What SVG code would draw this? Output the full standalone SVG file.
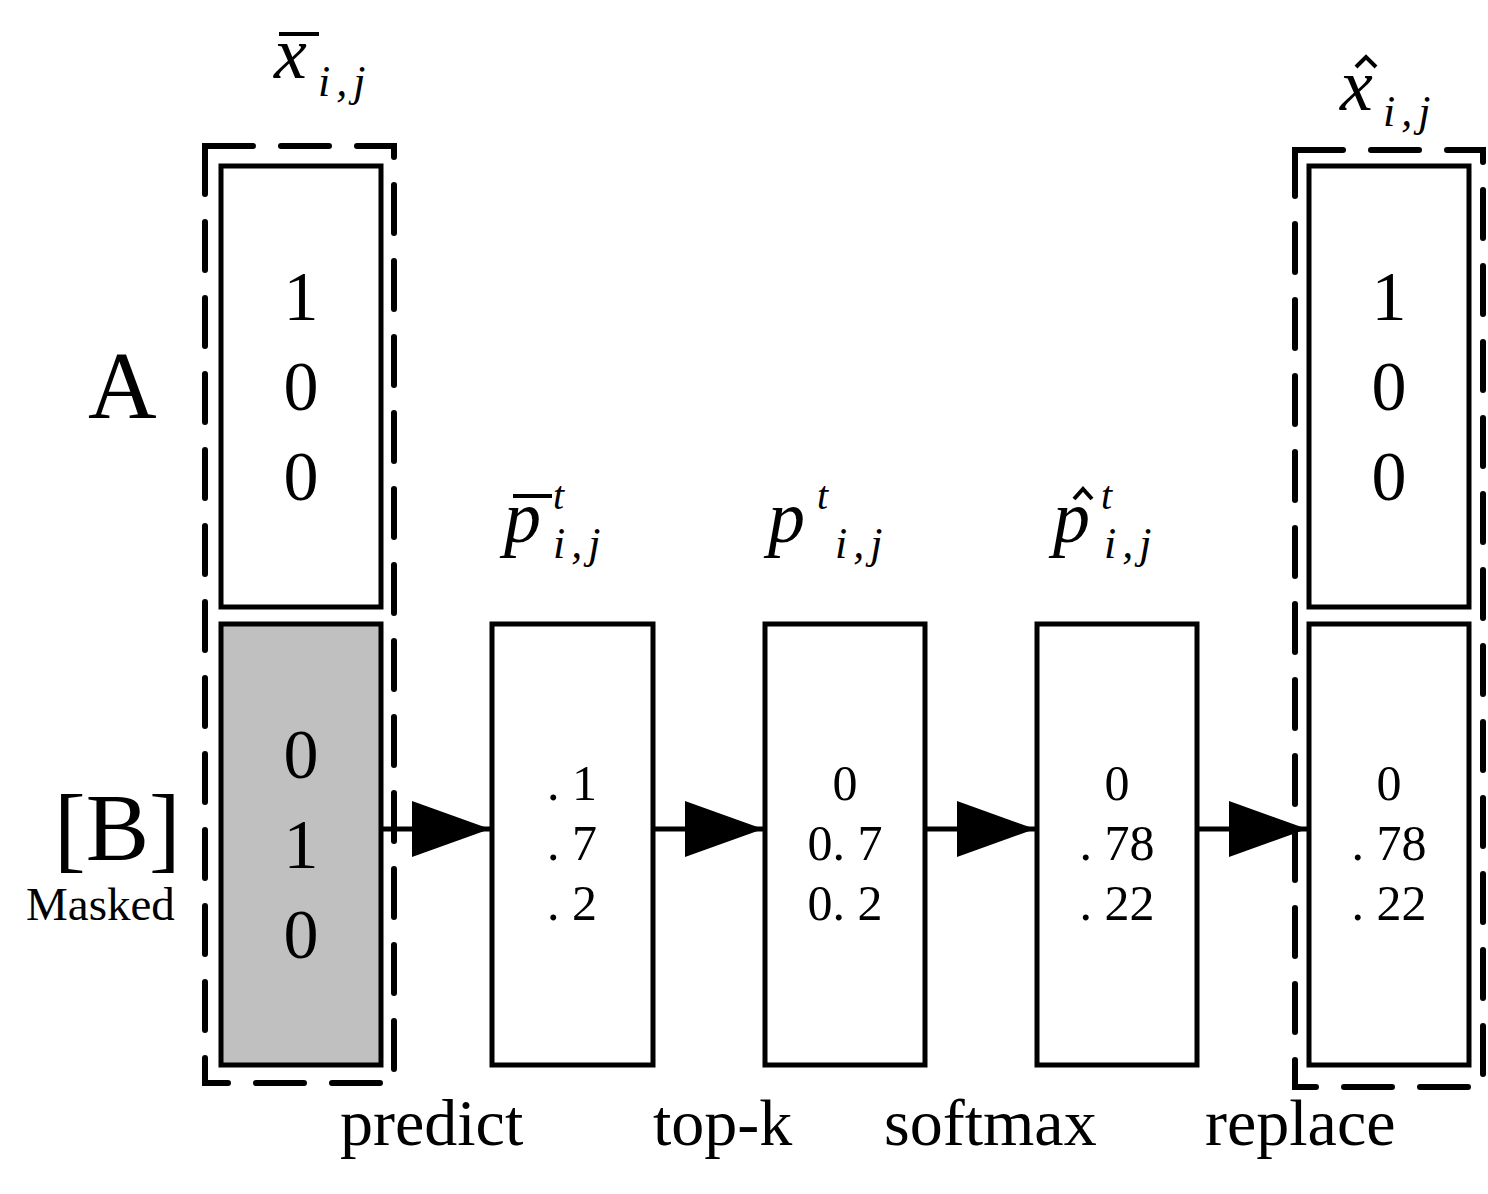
<svg xmlns="http://www.w3.org/2000/svg" width="1488" height="1194" viewBox="0 0 1488 1194">
<style>
.box{fill:#fff;stroke:#000;stroke-width:5}
.gray{fill:#c0c0c0;stroke:#000;stroke-width:5}
.dash{fill:none;stroke:#000;stroke-width:6;stroke-dasharray:48 28;stroke-linecap:round}
.big{font-family:"Liberation Serif",serif;font-size:70px;text-anchor:middle}
.num{font-family:"Liberation Serif",serif;font-size:50px;text-anchor:middle}
.lbl{font-family:"Liberation Serif",serif;font-size:66px}
.m{font-family:"Liberation Serif",serif;font-style:italic}
.mm{font-size:74px}
.sub{font-size:44px;letter-spacing:6px}
.sup{font-size:40px}
.line{stroke:#000;stroke-width:5;fill:none}
.acc{stroke:#000;stroke-width:4;fill:none}
</style>
<defs>
<marker id="ah" markerWidth="78" markerHeight="56" refX="78" refY="28" markerUnits="userSpaceOnUse" orient="auto">
<path d="M0,0 L78,28 L0,56 Z" fill="#000"/>
</marker>
</defs>
<g id="left-column">
<rect id="dash-left" class="dash" x="205" y="146" width="189" height="937"/>
<g id="node-A"><rect class="box" x="221" y="166" width="160" height="441"/>
<text class="big" x="301" y="320">1</text><text class="big" x="301" y="410">0</text><text class="big" x="301" y="500">0</text></g>
<g id="node-B"><rect class="gray" x="221" y="624" width="160" height="441"/>
<text class="big" x="301" y="778">0</text><text class="big" x="301" y="868">1</text><text class="big" x="301" y="958">0</text></g>
</g>
<g id="node-pbar"><rect class="box" x="492" y="624" width="161" height="441"/>
<text class="num" x="572" y="800">. 1</text><text class="num" x="572" y="860">. 7</text><text class="num" x="572" y="920">. 2</text></g>
<g id="node-p"><rect class="box" x="765" y="624" width="160" height="441"/>
<text class="num" x="845" y="800">0</text><text class="num" x="845" y="860">0. 7</text><text class="num" x="845" y="920">0. 2</text></g>
<g id="node-phat"><rect class="box" x="1037" y="624" width="160" height="441"/>
<text class="num" x="1117" y="800">0</text><text class="num" x="1117" y="860">. 78</text><text class="num" x="1117" y="920">. 22</text></g>
<g id="right-column">
<rect id="dash-right" class="dash" x="1295" y="150" width="188" height="937"/>
<g id="node-xhat-top"><rect class="box" x="1309" y="166" width="160" height="441"/>
<text class="big" x="1389" y="320">1</text><text class="big" x="1389" y="410">0</text><text class="big" x="1389" y="500">0</text></g>
<g id="node-xhat-bottom"><rect class="box" x="1309" y="624" width="160" height="441"/>
<text class="num" x="1389" y="800">0</text><text class="num" x="1389" y="860">. 78</text><text class="num" x="1389" y="920">. 22</text></g>
</g>
<g id="connectors">
<line class="line" x1="381" y1="829" x2="490" y2="829" marker-end="url(#ah)"/>
<line class="line" x1="653" y1="829" x2="763" y2="829" marker-end="url(#ah)"/>
<line class="line" x1="925" y1="829" x2="1035" y2="829" marker-end="url(#ah)"/>
<line class="line" x1="1197" y1="829" x2="1307" y2="829" marker-end="url(#ah)"/>
</g>
<g id="side-labels">
<text class="lbl" x="88" y="418" style="font-size:95px">A</text>
<text class="lbl" x="54" y="860" style="font-size:95px">[B]</text>
<text class="lbl" x="26" y="920" style="font-size:47px">Masked</text>
</g>
<g id="op-labels">
<text class="lbl" x="340" y="1145">predict</text>
<text class="lbl" x="653" y="1145">top-k</text>
<text class="lbl" x="884" y="1145">softmax</text>
<text class="lbl" x="1205" y="1145">replace</text>
</g>
<g id="math-labels">
<text class="m mm" x="274" y="78">x</text>
<line class="acc" x1="279" y1="34" x2="319" y2="34"/>
<text class="m sub" x="318" y="96">i,j</text>
<text class="m mm" x="1340" y="110">x</text>
<polyline class="acc" points="1356,67 1366,57 1376,67"/>
<text class="m sub" x="1383" y="126">i,j</text>
<text class="m mm" x="504" y="542">p</text>
<line class="acc" x1="513" y1="496" x2="552" y2="496"/>
<text class="m sup" x="553" y="509">t</text>
<text class="m sub" x="553" y="558">i,j</text>
<text class="m mm" x="768" y="542">p</text>
<text class="m sup" x="817" y="509">t</text>
<text class="m sub" x="835" y="558">i,j</text>
<text class="m mm" x="1053" y="542">p</text>
<polyline class="acc" points="1074,499 1083,489 1092,499"/>
<text class="m sup" x="1101" y="509">t</text>
<text class="m sub" x="1104" y="558">i,j</text>
</g>
</svg>
